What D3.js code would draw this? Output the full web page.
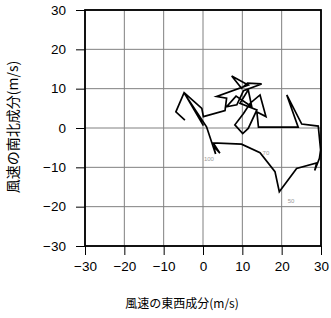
<!DOCTYPE html>
<html><head><meta charset="utf-8">
<script src="https://cdn.jsdelivr.net/npm/d3@7"></script>
<style>body{margin:0;background:#fff}svg{display:block}</style>
</head><body>
<script>
// wind components (m/s)
const u = [-4.6,-6.9,-4.8,-0.3,0.1,5.6,6.0,3.5,11.5,7.3,9.8,11.3,14.9,10.3,8.6,6.0,8.4,12.4,11.5,9.4,13.7,11.5,10.1,8.1,10.3,12.0,14.5,16.0,13.7,14.1,24.2,21.3,25.1,29.3,29.9,29.6,28.4,28.9,23.8,19.4,18.3,14.5,9.8,2.6,4.3,2.7,3.2,0.9,-4.6,0.1];
const v = [2.0,4.1,9.0,5.0,2.9,4.4,7.6,8.0,10.9,13.2,10.1,11.4,11.2,9.5,5.9,5.4,8.1,5.4,9.7,6.3,4.6,-0.1,-1.4,0.8,3.7,6.3,8.4,2.9,4.1,0.2,0.2,8.4,1.0,0.5,-5.6,-7.7,-10.8,-8.9,-10.3,-16.2,-11.1,-6.3,-4.1,-3.8,-6.4,-4.6,-6.6,0.3,8.6,0.6];
const labelText = ["100","70","50"];
const labelU = [1.5,16.0,22.4];
const labelV = [-8.1,-6.4,-18.6];
const ticks = [-30,-20,-10,0,10,20,30];

const W=331,H=318, L=85,R=321,T=10,B=246;
const svg=d3.select("body").append("svg").attr("width",W).attr("height",H);
const x=d3.scaleLinear().domain([-30,30]).range([L,R]);
const y=d3.scaleLinear().domain([-30,30]).range([B,T]);

const g=svg.append("g");
g.selectAll("line.gx").data(ticks).join("line").attr("class","gx")
 .attr("x1",d=>x(d)).attr("x2",d=>x(d)).attr("y1",T).attr("y2",B)
 .attr("stroke","#808080").attr("stroke-width",1);
g.selectAll("line.gy").data(ticks).join("line").attr("class","gy")
 .attr("y1",d=>y(d)).attr("y2",d=>y(d)).attr("x1",L).attr("x2",R)
 .attr("stroke","#808080").attr("stroke-width",1);

const font='"Liberation Sans", Arial, sans-serif';
const xa=svg.append("g").attr("transform",`translate(0,${B})`)
 .call(d3.axisBottom(x).tickValues(ticks).tickSize(9).tickPadding(6).tickFormat(d=>d<0?"\u2212"+(-d):d));
const ya=svg.append("g").attr("transform",`translate(${L},0)`)
 .call(d3.axisLeft(y).tickValues(ticks).tickSize(9).tickPadding(10).tickFormat(d=>d<0?"\u2212"+(-d):d));
[xa,ya].forEach(a=>{a.select(".domain").remove();a.selectAll("line").attr("stroke","#000");
 a.selectAll("text").attr("font-family",font).attr("font-size",13.5).attr("fill","#000");});

svg.append("rect").attr("x",L).attr("y",T).attr("width",R-L).attr("height",B-T)
 .attr("fill","none").attr("stroke","#000").attr("stroke-width",1.8);

const pts=u.map((d,i)=>[d,v[i]]);
svg.append("path").attr("d",d3.line().x(d=>x(d[0])).y(d=>y(d[1]))(pts))
 .attr("fill","none").attr("stroke","#000").attr("stroke-width",1.7).attr("stroke-linejoin","miter");

svg.selectAll("text.lab").data(labelText).join("text").attr("class","lab")
 .attr("x",(d,i)=>x(labelU[i])).attr("y",(d,i)=>y(labelV[i])).attr("text-anchor","middle")
 .attr("dominant-baseline","middle").attr("font-family",font).attr("font-size",6).attr("fill","#999").text(d=>d);

const cjk='"Noto Sans CJK JP", sans-serif';
svg.append("text").attr("x",182).attr("y",305).attr("text-anchor","middle").attr("dominant-baseline","middle")
 .attr("font-family",cjk).attr("font-size",12).text("風速の東西成分(m/s)");
svg.append("text").attr("transform",`translate(14,127) rotate(-90)`).attr("text-anchor","middle").attr("dominant-baseline","middle")
 .attr("font-family",cjk).attr("font-size",14).text("風速の南北成分(m/s)");
</script>
</body></html>
